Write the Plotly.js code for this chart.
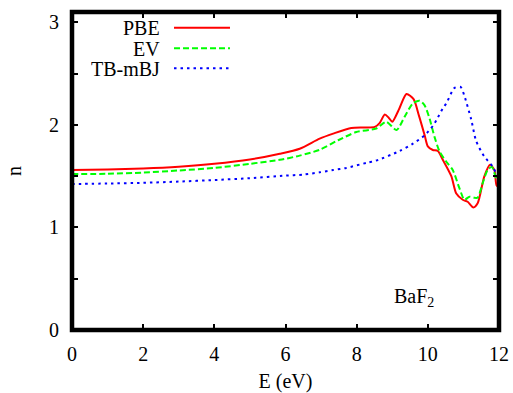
<!DOCTYPE html>
<html>
<head>
<meta charset="utf-8">
<script src="https://cdn.plot.ly/plotly-3.0.1.min.js"></script>
<style>
html,body{margin:0;padding:0;background:#fff;}
#chart{width:513px;height:393px;}
</style>
</head>
<body>
<div id="chart"></div>
<script>
// Data
var seriesNames = ["PBE", "EV", "TB-mBJ"];

var ePBE = [0, 1, 2, 3, 4, 5, 5.84, 6.4, 6.96, 7.34, 7.85, 8.2, 8.51, 8.65, 8.79, 8.9, 9.0, 9.2, 9.4, 9.6, 9.75, 9.91, 10.0, 10.14, 10.28, 10.42, 10.66, 10.8, 10.98, 11.12, 11.28, 11.4, 11.59, 11.75, 11.87, 11.93, 12.0];
var nPBE = [1.56, 1.565, 1.575, 1.592, 1.62, 1.662, 1.718, 1.767, 1.865, 1.914, 1.97, 1.975, 1.98, 2.02, 2.10, 2.07, 2.03, 2.16, 2.30, 2.25, 2.09, 1.90, 1.79, 1.755, 1.745, 1.66, 1.50, 1.33, 1.27, 1.25, 1.195, 1.235, 1.50, 1.61, 1.56, 1.41, 1.39];

var eEV = [0, 1, 2, 3, 4, 5, 5.84, 6.4, 6.96, 7.48, 7.99, 8.55, 8.83, 9.12, 9.35, 9.58, 9.77, 9.91, 10.05, 10.19, 10.33, 10.52, 10.7, 10.89, 11.03, 11.17, 11.3, 11.4, 11.54, 11.68, 11.8, 11.93, 12.0];
var nEV = [1.52, 1.523, 1.535, 1.555, 1.58, 1.62, 1.659, 1.70, 1.757, 1.85, 1.93, 1.964, 2.03, 1.95, 2.08, 2.21, 2.235, 2.19, 2.06, 1.88, 1.74, 1.64, 1.56, 1.38, 1.27, 1.30, 1.29, 1.29, 1.43, 1.56, 1.59, 1.47, 1.45];

var eMBJ = [0, 1, 2, 3, 4, 5, 6, 6.5, 6.96, 7.34, 7.71, 8.28, 8.55, 9.21, 9.58, 9.91, 10.14, 10.24, 10.42, 10.52, 10.75, 10.92, 11.03, 11.22, 11.36, 11.59, 11.83, 11.93, 12.0];
var nMBJ = [1.423, 1.428, 1.435, 1.447, 1.462, 1.48, 1.505, 1.515, 1.537, 1.56, 1.58, 1.63, 1.652, 1.745, 1.816, 1.898, 1.99, 2.045, 2.16, 2.21, 2.36, 2.37, 2.28, 2.05, 1.84, 1.69, 1.59, 1.52, 1.50];

var xTickVals = [0, 2, 4, 6, 8, 10, 12];
var xTickText = ["0", "2", "4", "6", "8", "10", "12"];
var yTickVals = [0, 1, 2, 3];
var yTickText = ["0", "1", "2", "3"];
var yMinorVals = [0.5, 1.5, 2.5];

var colors = ["#ff0000", "#00ff00", "#0000ff"];
var dashes = ["solid", "6px,3px", "2.5px,4px"];
var FONT = "Liberation Serif, Times New Roman, serif";

var traces = [
  {x: ePBE, y: nPBE, name: seriesNames[0], mode: "lines",
   line: {color: colors[0], width: 2, dash: dashes[0], shape: "spline", smoothing: 0.7}},
  {x: eEV, y: nEV, name: seriesNames[1], mode: "lines",
   line: {color: colors[1], width: 2, dash: dashes[1], shape: "spline", smoothing: 0.7}},
  {x: eMBJ, y: nMBJ, name: seriesNames[2], mode: "lines",
   line: {color: colors[2], width: 2, dash: dashes[2], shape: "spline", smoothing: 0.7}}
];

// legend drawn gnuplot-style: text right, sample to the right
var legY = [0.9506, 0.8858, 0.8230];
var annotations = [];
var shapes = [
  {type: "rect", xref: "paper", yref: "paper", x0: 0, x1: 1, y0: 0, y1: 1,
   line: {color: "#000", width: 4.5}, layer: "above"}
];
for (var i = 0; i < seriesNames.length; i++) {
  annotations.push({xref: "paper", yref: "paper", x: 0.2077, y: legY[i],
    xanchor: "right", yanchor: "middle", text: seriesNames[i], showarrow: false,
    height: 19, borderpad: 0,
    font: {family: FONT, size: 20, color: "#000"}});
  shapes.push({type: "line", xref: "paper", yref: "paper", x0: 0.2389, x1: 0.370,
    y0: legY[i], y1: legY[i], line: {color: colors[i], width: 2, dash: dashes[i]}});
}
annotations.push({xref: "x", yref: "y", x: 9.0, y: 0.32, xanchor: "left", yanchor: "middle",
  text: "BaF<sub>2</sub>", showarrow: false, font: {family: FONT, size: 20, color: "#000"}});

var layout = {
  width: 513, height: 393,
  margin: {l: 72, r: 14, t: 12, b: 63, pad: 0},
  paper_bgcolor: "#fff", plot_bgcolor: "#fff",
  showlegend: false,
  font: {family: FONT, size: 20, color: "#000"},
  xaxis: {
    range: [0, 12], tickmode: "array", tickvals: xTickVals, ticktext: xTickText,
    ticks: "inside", ticklen: 6, tickwidth: 2, tickcolor: "#000",
    showline: false, mirror: "ticks", showgrid: false, zeroline: false,
    ticklabelstandoff: 10,
    tickfont: {family: FONT, size: 20, color: "#000"},
    title: {text: "E (eV)", font: {family: FONT, size: 20, color: "#000"}, standoff: 12}
  },
  yaxis: {
    range: [0, 3.1], tickmode: "array", tickvals: yTickVals, ticktext: yTickText,
    ticks: "inside", ticklen: 6, tickwidth: 2, tickcolor: "#000",
    minor: {tickmode: "array", tickvals: yMinorVals, ticks: "inside", ticklen: 6,
            tickwidth: 2, tickcolor: "#000", showgrid: false},
    showline: false, mirror: "ticks", showgrid: false, zeroline: false,
    ticklabelstandoff: 12,
    tickfont: {family: FONT, size: 20, color: "#000"},
    title: {text: "n", font: {family: FONT, size: 20, color: "#000"}, standoff: 22}
  },
  annotations: annotations,
  shapes: shapes
};

Plotly.newPlot("chart", traces, layout, {displayModeBar: false, staticPlot: true});
</script>
</body>
</html>
